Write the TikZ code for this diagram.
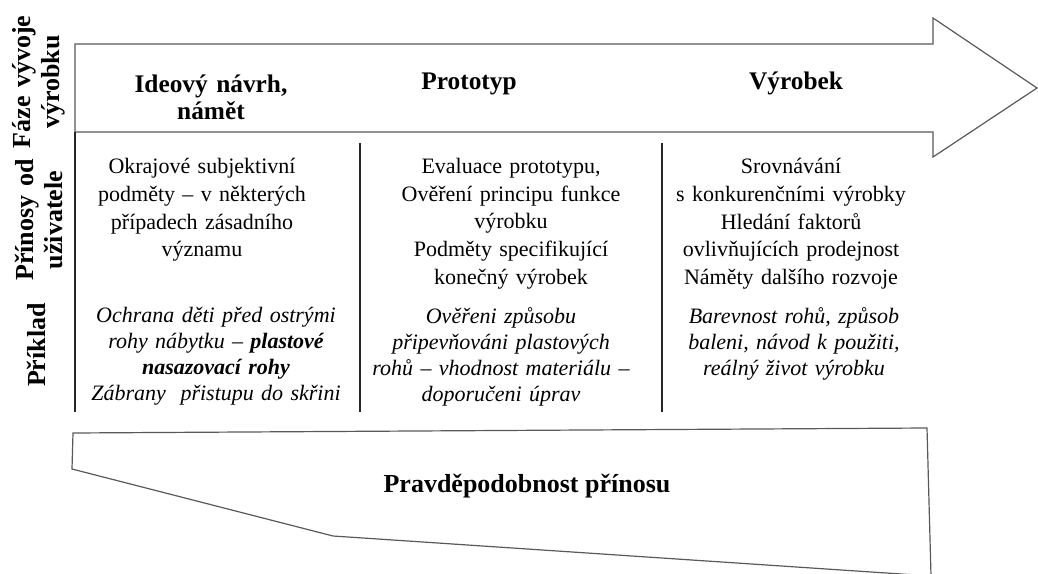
\documentclass[tikz,border=0pt]{standalone}
\usepackage{fontspec}
\setmainfont{Liberation Serif}
\usetikzlibrary{positioning}
\definecolor{FazeLine}{HTML}{595959}
\definecolor{FazeSep}{HTML}{262626}

\begin{document}
\begin{tikzpicture}[
  x=0.75pt, y=-0.75pt,
  outline/.style={draw=FazeLine, line width=0.9pt, line join=miter},
  sep/.style={draw=FazeSep, line width=0.9pt},
  phase/.style={inner sep=0pt, text width=130pt, align=center, font=\fontsize{19}{20.25}\selectfont\bfseries},
  side/.style={inner sep=0pt, text width=120pt, align=center, rotate=90, font=\fontsize{19.5}{21.75}\selectfont\bfseries},
  gain/.style={inner sep=0pt, anchor=north, text width=210pt, align=center, font=\fontsize{16.5}{20.8}\selectfont},
  sample/.style={inner sep=0pt, anchor=north, text width=210pt, align=center, font=\fontsize{16.5}{19.5}\selectfont\itshape}
]
\useasboundingbox (0,0) rectangle (1038,574);

% arrow of phases and the bottom wedge
\draw[outline] (75,44) -- (933,44) -- (933,18) -- (1037,88) -- (933,157) -- (933,132) -- (75,132) -- cycle;
\draw[outline] (73,433) -- (927,428) -- (931,576) -- (333,536) -- (72,469) -- cycle;

% table lines
\draw[sep] (75,132) -- (75,412);
\draw[sep] (360,143) -- (360,412);
\draw[sep] (662,143) -- (662,412);

% row labels
\node[side] (rowphase) at (39,82) {Fáze vývoje\\výrobku};
\node[side] (rowgain) at (39,220) {Přínosy od\\uživatele};
\node[side, text width=, anchor=base] (rowsample) at (45,345) {Příklad};

% phases
\node[phase] (idea) at (211,97) {Ideový návrh,\\námět};
\node[phase, anchor=base] (proto) at (469,90) {Prototyp};
\node[phase, anchor=base] (product) at (796,90) {Výrobek};

% gains
\node[gain] (ideagain) at (202,158) {Okrajové subjektivní\\podměty – v některých\\případech zásadního\\významu};
\node[gain] (protogain) at (511,158) {Evaluace prototypu,\\Ověření principu funkce\\výrobku\\Podměty specifikující\\konečný výrobek};
\node[gain] (productgain) at (791,158) {Srovnávání\\s konkurenčními výrobky\\Hledání faktorů\\ovlivňujících prodejnost\\Náměty dalšího rozvoje};

% samples
\node[sample] (ideasample) at (216,307) {Ochrana děti před ostrými\\rohy nábytku – \textbf{plastové}\\\textbf{nasazovací rohy}\\Zábrany\ \ přistupu do skřini};
\node[sample] (protosample) at (501,307) {Ověřeni způsobu\\připevňováni plastových\\rohů – vhodnost materiálu –\\doporučeni úprav};
\node[sample] (productsample) at (794,307) {Barevnost rohů, způsob\\baleni, návod k použiti,\\reálný život výrobku};

\node[font=\fontsize{19.5}{21}\selectfont\bfseries, anchor=base, inner sep=0pt] (chance) at (527,492) {Pravděpodobnost přínosu};
\end{tikzpicture}
\end{document}
